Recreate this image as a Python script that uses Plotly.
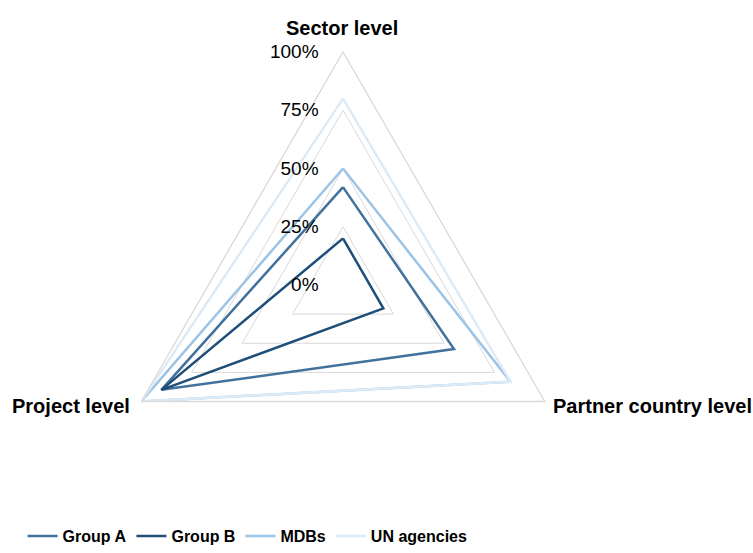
import plotly.graph_objects as go

# Coordination levels (clockwise from the top)
levels = ["Sector level", "Partner country level", "Project level"]

# Share of activities, in percent
group_a = [42, 55, 90]
group_b = [20, 20, 90]
mdbs = [50, 83, 100]
un_agencies = [80, 83, 100]

series_names = ["Group A", "Group B", "MDBs", "UN agencies"]
series_values = [group_a, group_b, mdbs, un_agencies]
series_colors = ["#41719C", "#1F4E79", "#9DC3E6", "#DDEBF7"]

tick_values = [0, 25, 50, 75, 100]
tick_labels = ["0%", "25%", "50%", "75%", "100%"]

FONT = "Liberation Sans, Arial, sans-serif"
W, H = 753, 553

fig = go.Figure()
for name, vals, color in zip(series_names, series_values, series_colors):
    fig.add_trace(go.Scatterpolar(
        r=vals + vals[:1],
        theta=levels + levels[:1],
        mode="lines",
        name=name,
        line=dict(color=color, width=2.5),
        hoverinfo="skip",
    ))

# Level names placed just outside each corner of the outer triangle
label_specs = [
    (levels[0], 342, 28, "center"),
    (levels[1], 551, 406, "left"),
    (levels[2], 132, 406, "right"),
]
for text, px, py, anchor in label_specs:
    fig.add_annotation(
        text=text,
        xref="paper", yref="paper",
        x=px / W, y=(H - py) / H,
        xanchor=anchor, yanchor="middle",
        showarrow=False,
        font=dict(family=FONT, size=20, color="#000000", weight="bold"),
    )

pad = "\u00a0" * 4
fig.update_layout(
    width=W,
    height=H,
    margin=dict(l=0, r=0, t=0, b=0),
    paper_bgcolor="white",
    plot_bgcolor="white",
    font=dict(family=FONT, size=17, color="#000000"),
    polar=dict(
        domain=dict(x=[110 / W, 576 / W], y=[35 / H, 501 / H]),
        bgcolor="white",
        gridshape="linear",
        angularaxis=dict(
            rotation=90,
            direction="clockwise",
            showline=True,
            linecolor="#D9D9D9",
            linewidth=1.3,
            showgrid=False,
            ticks="",
            showticklabels=False,
        ),
        radialaxis=dict(
            range=[0, 100],
            angle=90,
            tickangle=90,
            side="counterclockwise",
            tickvals=tick_values,
            ticktext=[t + pad for t in tick_labels],
            showline=False,
            ticks="",
            gridcolor="#D9D9D9",
            gridwidth=1.3,
            tickfont=dict(family=FONT, size=19, color="#000000"),
        ),
    ),
    legend=dict(
        orientation="h",
        x=0.03,
        xanchor="left",
        y=0,
        yanchor="bottom",
        font=dict(family=FONT, size=16, color="#000000", weight="bold"),
        itemwidth=30,
        traceorder="normal",
    ),
)

fig.write_html("out.html")
